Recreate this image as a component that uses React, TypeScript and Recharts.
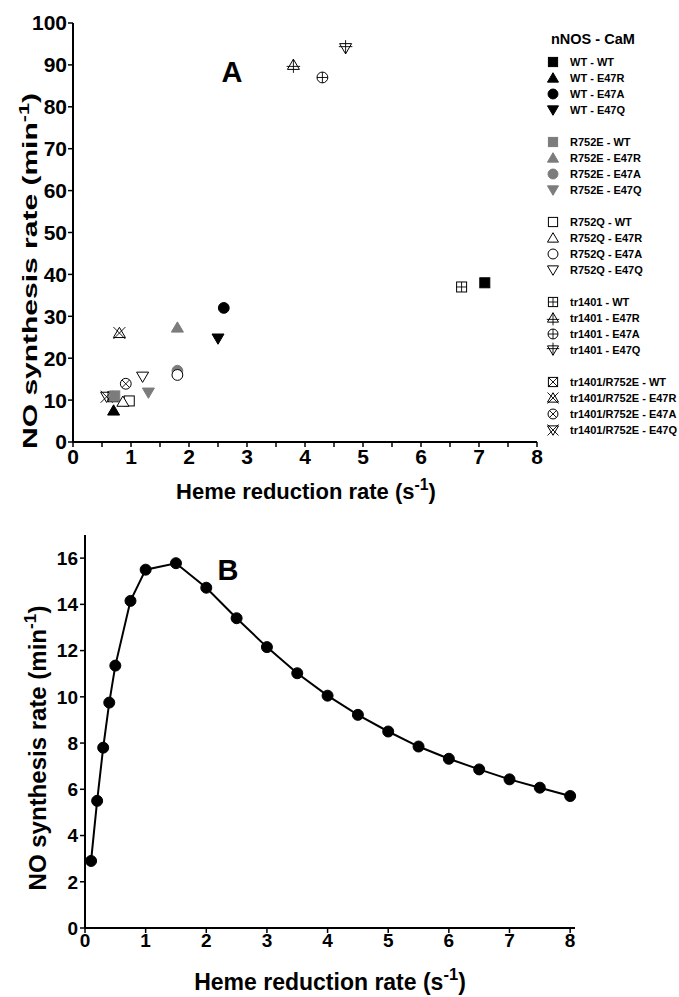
import React from 'react';
import { ScatterChart, Scatter, XAxis, YAxis, LineChart, Line, Legend, Customized } from 'recharts';

const FONT = "'Liberation Sans', Arial, Helvetica, sans-serif";

// ---------- Panel A data ----------
const CAM_VARIANTS = ['WT', 'E47R', 'E47A', 'E47Q'];
const NNOS_GROUPS = ['WT', 'R752E', 'R752Q', 'tr1401', 'tr1401/R752E'];

// order of values: CaM WT, E47R, E47A, E47Q
const wtX = [7.1, 0.7, 2.6, 2.5];
const wtY = [38, 7.5, 32, 24.7];
const r752eX = [0.72, 1.8, 1.8, 1.3];
const r752eY = [11, 27.3, 17, 11.8];
const r752qX = [0.97, 0.86, 1.8, 1.2];
const r752qY = [9.8, 9.6, 16, 15.6];
const tr1401X = [6.7, 3.8, 4.3, 4.7];
const tr1401Y = [37, 90, 87, 94];
const trR752eX = [0.69, 0.8, 0.91, 0.58];
const trR752eY = [10.8, 26, 13.9, 10.8];

const xTicksA = [0, 0.5, 1, 1.5, 2, 2.5, 3, 3.5, 4, 4.5, 5, 5.5, 6, 6.5, 7, 7.5, 8];
const yTicksA = [0, 10, 20, 30, 40, 50, 60, 70, 80, 90, 100];

// ---------- Panel B data ----------
const rateB = [0.1, 0.2, 0.3, 0.4, 0.5, 0.75, 1, 1.5, 2, 2.5, 3, 3.5, 4, 4.5, 5, 5.5, 6, 6.5, 7, 7.5, 8];
const noB = [2.9, 5.5, 7.8, 9.75, 11.35, 14.15, 15.5, 15.78, 14.72, 13.4, 12.15, 11.02, 10.05, 9.22, 8.5, 7.85, 7.32, 6.86, 6.43, 6.07, 5.71];
const xTicksB = [0, 1, 2, 3, 4, 5, 6, 7, 8];
const yTicksB = [0, 2, 4, 6, 8, 10, 12, 14, 16];

const GROUP_DATA = [
  { name: 'WT', xs: wtX, ys: wtY },
  { name: 'R752E', xs: r752eX, ys: r752eY },
  { name: 'R752Q', xs: r752qX, ys: r752qY },
  { name: 'tr1401', xs: tr1401X, ys: tr1401Y },
  { name: 'tr1401/R752E', xs: trR752eX, ys: trR752eY },
];

const SHAPES = ['square', 'triangle', 'circle', 'invtriangle'];
const STYLES: Record<string, { fill: string; stroke: string; over: string | null }> = {
  'WT': { fill: '#000', stroke: '#000', over: null },
  'R752E': { fill: '#7c7c7c', stroke: '#7c7c7c', over: null },
  'R752Q': { fill: '#fff', stroke: '#000', over: null },
  'tr1401': { fill: 'none', stroke: '#000', over: 'plus' },
  'tr1401/R752E': { fill: 'none', stroke: '#000', over: 'cross' },
};

function Marker({ cx, cy, shape, group, s }: any) {
  if (cx == null || cy == null) return null;
  const st = STYLES[group];
  const common = { fill: st.fill, stroke: st.stroke, strokeWidth: 1 };
  let body: any = null;
  const lines: any[] = [];
  const L = (x1: number, y1: number, x2: number, y2: number, k: string) => (
    <line key={k} x1={x1} y1={y1} x2={x2} y2={y2} stroke="#000" strokeWidth={0.9} />
  );
  if (shape === 'square') {
    body = <rect x={cx - s} y={cy - s} width={2 * s} height={2 * s} {...common} />;
    if (st.over === 'plus') { lines.push(L(cx - s, cy, cx + s, cy, 'h'), L(cx, cy - s, cx, cy + s, 'v')); }
    if (st.over === 'cross') { lines.push(L(cx - s, cy - s, cx + s, cy + s, 'a'), L(cx - s, cy + s, cx + s, cy - s, 'b')); }
  } else if (shape === 'circle') {
    const r = s * 1.08;
    body = <circle cx={cx} cy={cy} r={r} {...common} />;
    if (st.over === 'plus') { lines.push(L(cx - r, cy, cx + r, cy, 'h'), L(cx, cy - r, cx, cy + r, 'v')); }
    if (st.over === 'cross') { const d = r * 0.707; lines.push(L(cx - d, cy - d, cx + d, cy + d, 'a'), L(cx - d, cy + d, cx + d, cy - d, 'b')); }
  } else if (shape === 'triangle') {
    body = <polygon points={`${cx},${cy - s * 1.15} ${cx + s * 1.2},${cy + s * 0.9} ${cx - s * 1.2},${cy + s * 0.9}`} {...common} />;
    if (st.over === 'plus') { lines.push(L(cx - s * 1.35, cy + s * 0.3, cx + s * 1.35, cy + s * 0.3, 'h'), L(cx, cy - s * 1.15, cx, cy + s * 1.6, 'v')); }
    if (st.over === 'cross') { lines.push(L(cx - s * 1.2, cy - s * 1.2, cx + s * 1.2, cy + s * 1.2, 'a'), L(cx - s * 1.2, cy + s * 1.2, cx + s * 1.2, cy - s * 1.2, 'b')); }
  } else {
    body = <polygon points={`${cx},${cy + s * 1.15} ${cx + s * 1.2},${cy - s * 0.9} ${cx - s * 1.2},${cy - s * 0.9}`} {...common} />;
    if (st.over === 'plus') { lines.push(L(cx - s * 1.35, cy - s * 0.3, cx + s * 1.35, cy - s * 0.3, 'h'), L(cx, cy - s * 1.6, cx, cy + s * 1.15, 'v')); }
    if (st.over === 'cross') { lines.push(L(cx - s * 1.2, cy - s * 1.2, cx + s * 1.2, cy + s * 1.2, 'a'), L(cx - s * 1.2, cy + s * 1.2, cx + s * 1.2, cy - s * 1.2, 'b')); }
  }
  return (
    <g>
      {body}
      {lines}
    </g>
  );
}

function YTitle({ px, py, size, stretch }: any) {
  return (
    <text
      transform={`translate(${px},${py}) scale(1,${stretch}) rotate(-90)`}
      textAnchor="middle"
      fontFamily={FONT}
      fontWeight={700}
      fontSize={size}
      fill="#000"
    >
      NO synthesis rate (min
      <tspan fontSize={size * 0.72} dy={-size * 0.42}>-1</tspan>
      <tspan dy={size * 0.42}>)</tspan>
    </text>
  );
}

function XTitle({ px, py, size }: any) {
  return (
    <text x={px} y={py} textAnchor="middle" fontFamily={FONT} fontWeight={700} fontSize={size} fill="#000">
      Heme reduction rate (s
      <tspan fontSize={size * 0.72} dy={-size * 0.42}>-1</tspan>
      <tspan dy={size * 0.42}>)</tspan>
    </text>
  );
}

const renderLegend = () => (
  <div style={{ fontFamily: FONT, color: '#000' }}>
    <div style={{ fontSize: 14.5, fontWeight: 700, height: 20, lineHeight: '20px', marginLeft: 6, whiteSpace: 'nowrap' }}>nNOS - CaM</div>
    <div style={{ height: 5 }} />
    {NNOS_GROUPS.map((g) => (
      <div key={g} style={{ marginBottom: 16 }}>
        {CAM_VARIANTS.map((v, vi) => (
          <div key={v} style={{ display: 'flex', alignItems: 'center', height: 16 }}>
            <svg width={16} height={16} style={{ flex: 'none' }}>
              <Marker cx={8} cy={8} shape={SHAPES[vi]} group={g} s={4.6} />
            </svg>
            <span style={{ fontSize: 11, fontWeight: 700, marginLeft: 9, whiteSpace: 'nowrap', lineHeight: '16px' }}>{`${g} - ${v}`}</span>
          </div>
        ))}
      </div>
    ))}
  </div>
);

const DRAW_ORDER = ['tr1401/R752E', 'tr1401', 'R752E', 'R752Q', 'WT'];

const axisLine = { stroke: '#000', strokeWidth: 2 };
const tickLine = { stroke: '#000', strokeWidth: 1.5 };

function PanelA() {
  const series: any[] = [];
  DRAW_ORDER.forEach((gName) => {
    const g = GROUP_DATA.find((d) => d.name === gName)!;
    CAM_VARIANTS.forEach((v, vi) => {
      series.push(
        <Scatter
          key={`${g.name}-${v}`}
          name={`${g.name} - ${v}`}
          data={[{ x: g.xs[vi], y: g.ys[vi] }]}
          isAnimationActive={false}
          legendType="none"
          shape={(p: any) => <Marker cx={p.cx} cy={p.cy} shape={SHAPES[vi]} group={g.name} s={5} />}
        />
      );
    });
  });
  return (
    <ScatterChart width={679} height={515} margin={{ top: 23, right: 9, bottom: 0, left: 0 }}>
      <XAxis
        type="number"
        dataKey="x"
        domain={[0, 8]}
        ticks={xTicksA}
        interval={0}
        tickFormatter={(v: number) => (Number.isInteger(v) ? String(v) : '')}
        axisLine={axisLine}
        tickLine={tickLine}
        tickSize={5}
        tickMargin={2}
        tick={{ fill: '#000', fontSize: 21, fontWeight: 700, fontFamily: FONT }}
        height={73}
        label={<XTitle px={306} py={499} size={22} />}
      />
      <YAxis
        type="number"
        dataKey="y"
        domain={[0, 100]}
        ticks={yTicksA}
        interval={0}
        axisLine={axisLine}
        tickLine={tickLine}
        tickSize={5}
        tickMargin={1}
        tick={{ fill: '#000', fontSize: 21, fontWeight: 700, fontFamily: FONT }}
        width={73}
        label={<YTitle px={37} py={271} size={20} stretch={1.5} />}
      />
      {series}
      <Legend
        layout="vertical"
        align="right"
        verticalAlign="top"
        content={renderLegend}
        wrapperStyle={{ position: 'absolute', left: 545, top: 29, width: 133 }}
      />
      <Customized
        component={() => (
          <text x={232} y={82} textAnchor="middle" fontFamily={FONT} fontWeight={700} fontSize={29} fill="#000">A</text>
        )}
      />
    </ScatterChart>
  );
}

function PanelB() {
  const data = rateB.map((x, i) => ({ x, y: noB[i] }));
  return (
    <LineChart width={679} height={497} data={data} margin={{ top: 35, right: 104, bottom: 0, left: 0 }}>
      <XAxis
        type="number"
        dataKey="x"
        domain={[0, 8.08]}
        ticks={xTicksB}
        interval={0}
        axisLine={axisLine}
        tickLine={tickLine}
        tickSize={5}
        tickMargin={1}
        tick={{ fill: '#000', fontSize: 19, fontWeight: 700, fontFamily: FONT }}
        height={69}
        label={<XTitle px={330} py={490} size={23} />}
      />
      <YAxis
        type="number"
        domain={[0, 17]}
        ticks={yTicksB}
        interval={0}
        axisLine={axisLine}
        tickLine={tickLine}
        tickSize={5}
        tickMargin={2}
        tick={{ fill: '#000', fontSize: 19, fontWeight: 700, fontFamily: FONT }}
        width={85}
        label={<YTitle px={46} py={248} size={24} stretch={1} />}
      />
      <Line
        type="linear"
        dataKey="y"
        stroke="#000"
        strokeWidth={2}
        dot={{ r: 5.5, fill: '#000', stroke: '#000', strokeWidth: 1 }}
        activeDot={false}
        isAnimationActive={false}
      />
      <Customized
        component={() => (
          <text x={228} y={80} textAnchor="middle" fontFamily={FONT} fontWeight={700} fontSize={29} fill="#000">B</text>
        )}
      />
    </LineChart>
  );
}

export default function App() {
  return (
    <div style={{ position: 'absolute', left: 0, top: 0, width: 679, height: 997, background: '#fff', overflow: 'hidden' }}>
      <div style={{ position: 'absolute', left: 0, top: 0 }}>
        <PanelA />
      </div>
      <div style={{ position: 'absolute', left: 0, top: 500 }}>
        <PanelB />
      </div>
    </div>
  );
}
